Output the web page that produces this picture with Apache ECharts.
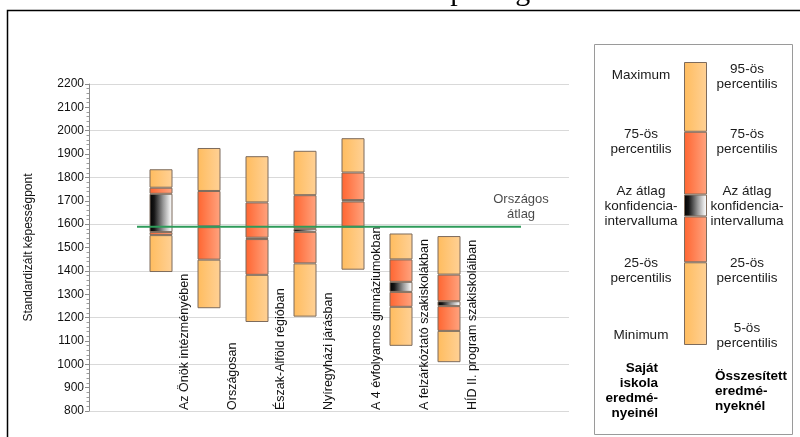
<!DOCTYPE html>
<html>
<head>
<meta charset="utf-8">
<script src="https://cdn.jsdelivr.net/npm/echarts@6.0.0/dist/echarts.min.js"></script>
<style>
html,body{margin:0;padding:0;background:#fff;}
#c{width:800px;height:437px;}
</style>
</head>
<body>
<div id="c"></div>
<script>
// ---- data ----
const categories = [
  "Az Önök intézményében",
  "Országosan",
  "Észak-Alföld régióban",
  "Nyíregyházi járásban",
  "A 4 évfolyamos gimnáziumokban",
  "A felzárkóztató szakiskolákban",
  "HÍD II. program szakiskoláiban"
];
const lowVals    = [1395, 1240, 1181, 1204, 1405, 1079, 1009]; // minimum / 5th percentile
const p25Vals    = [1553, 1448, 1383, 1432, 1589, 1246, 1143];
const ciLowVals  = [1566, 1587, 1536, 1567, 1697, 1310, 1249];
const ciHighVals = [1730, 1591, 1542, 1580, 1703, 1353, 1270];
const p75Vals    = [1756, 1742, 1693, 1724, 1821, 1449, 1384];
const highVals   = [1835, 1926, 1891, 1914, 1968, 1560, 1549]; // maximum / 95th percentile
const nationalAverage = 1589;
const nationalLabel = "Országos\nátlag";
const yMin = 800, yMax = 2200, yStep = 100;
const titleText = "Tanulói képességek";
const yAxisTitle = "Standardizált képességpont";
// legend illustration segments (bottom -> top)
const legendSegments = [83, 46, 22, 63, 70];
const legendLeftTexts = ["Maximum", "75-ös\npercentilis", "Az átlag\nkonfidencia-\nintervalluma", "25-ös\npercentilis", "Minimum"];
const legendRightTexts = ["95-ös\npercentilis", "75-ös\npercentilis", "Az átlag\nkonfidencia-\nintervalluma", "25-ös\npercentilis", "5-ös\npercentilis"];
const legendLeftFooter = "Saját\niskola\neredmé-\nnyeinél";
const legendRightFooter = "Összesített\neredmé-\nnyeknél";

// ---- derived ----
const pad = a => ['-', ...a, '-', '-'];
const diff = (a, b) => a.map((v, i) => v - b[i]);
const xCats = ['', ...categories, '', ''];
const segBase = pad(lowVals);
const seg1 = pad(diff(p25Vals, lowVals));
const seg2 = pad(diff(ciLowVals, p25Vals));
const seg3 = pad(diff(ciHighVals, ciLowVals));
const seg4 = pad(diff(p75Vals, ciHighVals));
const seg5 = pad(diff(highVals, p75Vals));

const G = echarts.graphic.LinearGradient;
const lightGrad = new G(0,0,1,0,[{offset:0,color:'#FFBC5E'},{offset:1,color:'#FFD196'}]);
const orangeGrad = new G(0,0,1,0,[{offset:0,color:'#FF6530'},{offset:1,color:'#FFA480'}]);
const ciGrad = new G(0,0,1,0,[{offset:0,color:'#000'},{offset:0.2,color:'#151515'},{offset:0.6,color:'#9a9a9a'},{offset:0.9,color:'#efefef'},{offset:1,color:'#fff'}]);
const segBorder = {borderColor:'#7d6b5c', borderWidth:1};

function segSeries(name, data, color, xi, yi, stack, bw) {
  return {
    type:'bar', name, data, stack, xAxisIndex:xi, yAxisIndex:yi, barWidth:bw,
    itemStyle:Object.assign({color}, segBorder), silent:true, animation:false
  };
}

const chart = echarts.init(document.getElementById('c'), null, {renderer:'canvas'});
const font = 'Liberation Sans';
const lf = '13.5px "' + font + '"';

const graphics = [
  {type:'rect', shape:{x:7.5, y:10.5, width:900, height:500}, style:{fill:'none', stroke:'#000', lineWidth:1.5}, silent:true},
  {type:'rect', shape:{x:594.5, y:44.5, width:198, height:390}, style:{fill:'none', stroke:'#9a9a9a', lineWidth:1}, silent:true},
  {type:'text', x:441, y:-8, style:{text:titleText, font:'30px "Liberation Serif"', fill:'#000', align:'center', verticalAlign:'middle'}, silent:true}
];
const leftY = [75.7, 141.7, 206.7, 271, 335.7];
const rightY = [76.5, 141.7, 206.7, 271, 336];
legendLeftTexts.forEach((t,i)=>graphics.push({type:'text', x:641, y:leftY[i], style:{text:t, font:lf, lineHeight:15, fill:'#1a1a1a', align:'center', verticalAlign:'middle'}, silent:true}));
legendRightTexts.forEach((t,i)=>graphics.push({type:'text', x:747, y:rightY[i], style:{text:t, font:lf, lineHeight:15, fill:'#1a1a1a', align:'center', verticalAlign:'middle'}, silent:true}));
graphics.push({type:'text', x:658, y:390.5, style:{text:legendLeftFooter, font:'bold ' + lf, lineHeight:15, fill:'#000', align:'right', verticalAlign:'middle'}, silent:true});
graphics.push({type:'text', x:715, y:391.5, style:{text:legendRightFooter, font:'bold ' + lf, lineHeight:15, fill:'#000', align:'left', verticalAlign:'middle'}, silent:true});

const legendTotal = legendSegments.reduce((a,b)=>a+b,0);

chart.setOption({
  backgroundColor:'#fff',
  animation:false,
  grid:[
    {left:89, right:231, top:84, bottom:26},
    {left:684, width:23, top:62, height:283}
  ],
  xAxis:[
    {type:'category', data:xCats, gridIndex:0, show:false, boundaryGap:true},
    {type:'value', gridIndex:0, min:0, max:10, interval:1, position:'bottom',
      axisLine:{show:false}, axisTick:{show:false}, splitLine:{show:false},
      axisLabel:{inside:true, rotate:90, margin:1, fontFamily:font, fontSize:12.5, color:'#111',
        formatter:v => (v>=2 && v<=8) ? categories[v-2] : ''}},
    {type:'category', data:[''], gridIndex:1, show:false}
  ],
  yAxis:[
    {type:'value', gridIndex:0, min:yMin, max:yMax, interval:yStep,
      name:yAxisTitle, nameLocation:'middle', nameGap:54, nameTextStyle:{fontFamily:font, fontSize:12, color:'#111'},
      axisLine:{show:true, lineStyle:{color:'#8c8c8c'}},
      axisTick:{show:true, length:4, lineStyle:{color:'#8c8c8c'}},
      minorTick:{show:true, splitNumber:5, length:2.5, lineStyle:{color:'#9c9c9c'}},
      splitLine:{show:false},
      axisLabel:{fontFamily:font, fontSize:12, color:'#111', margin:5, formatter:v => String(v)}},
    {type:'value', gridIndex:0, min:yMin, max:yMax, interval:200, show:true,
      axisLine:{show:false}, axisTick:{show:false}, axisLabel:{show:false},
      splitLine:{show:true, lineStyle:{color:'#d9d9d9', width:1}}},
    {type:'value', gridIndex:1, min:0, max:legendTotal, show:false}
  ],
  graphic:graphics,
  series:[
    {type:'bar', name:'base', data:segBase, stack:'s', xAxisIndex:0, yAxisIndex:0, barWidth:23, itemStyle:{color:'rgba(0,0,0,0)'}, silent:true},
    segSeries('p25', seg1, lightGrad, 0, 0, 's', 23),
    segSeries('ciLow', seg2, orangeGrad, 0, 0, 's', 23),
    segSeries('ci', seg3, ciGrad, 0, 0, 's', 23),
    segSeries('p75', seg4, orangeGrad, 0, 0, 's', 23),
    segSeries('max', seg5, lightGrad, 0, 0, 's', 23),
    {type:'line', name:'avg', xAxisIndex:1, yAxisIndex:0, z:5,
      data:[[1, nationalAverage], [9, nationalAverage]],
      symbol:'none',
      lineStyle:{color:'#2e9b5a', width:2},
      silent:true},
    {type:'scatter', name:'avgLabel', xAxisIndex:1, yAxisIndex:0, z:6,
      data:[[9, nationalAverage]],
      symbol:'circle', symbolSize:2, itemStyle:{color:'rgba(0,0,0,0)'},
      label:{show:true, position:'top', distance:4, formatter:()=>nationalLabel, fontFamily:font, fontSize:13, lineHeight:15, color:'#1a1a1a', align:'center'},
      silent:true},
    segSeries('lg1', [legendSegments[0]], lightGrad, 2, 2, 'l', 23),
    segSeries('lg2', [legendSegments[1]], orangeGrad, 2, 2, 'l', 23),
    segSeries('lg3', [legendSegments[2]], ciGrad, 2, 2, 'l', 23),
    segSeries('lg4', [legendSegments[3]], orangeGrad, 2, 2, 'l', 23),
    segSeries('lg5', [legendSegments[4]], lightGrad, 2, 2, 'l', 23)
  ]
});
</script>
</body>
</html>
